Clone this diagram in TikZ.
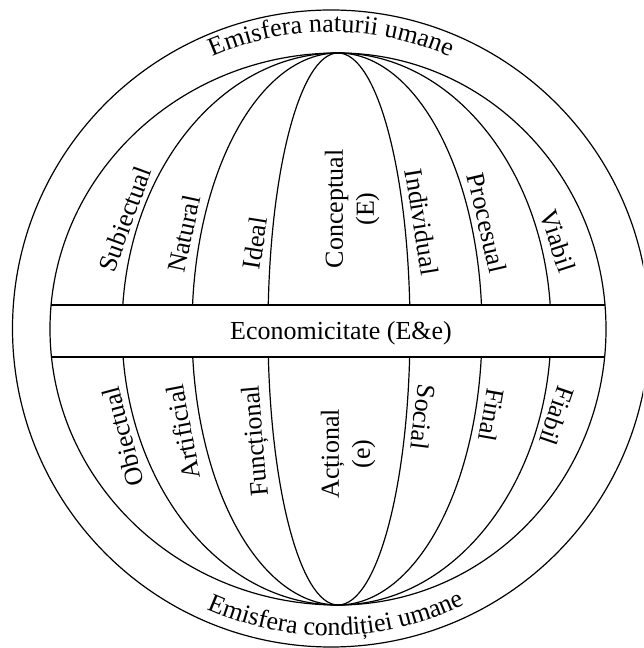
\documentclass[tikz,border=0pt]{standalone}
\usepackage{fontspec}
\setmainfont{Liberation Serif}
\usetikzlibrary{decorations.text}
\begin{document}
\begin{tikzpicture}[x=1pt,y=1pt,line width=1.2pt,
  lbl/.style={font=\fontsize{26}{31}\selectfont,inner sep=0pt,align=center}]
\useasboundingbox (0,0) rectangle (643,648);
\clip (0,0) rectangle (643,648);
% meridians
\foreach \r in {216,146,70}
  \draw (338,595) arc[start angle=90,end angle=270,x radius=\r,y radius=276];
\foreach \r in {72,144,213}
  \draw (338,595) arc[start angle=90,end angle=-90,x radius=\r,y radius=276];
% equatorial band
\begin{scope}
  \clip (338,595) arc[start angle=90,end angle=270,x radius=288,y radius=276]
        arc[start angle=-90,end angle=90,x radius=268,y radius=276] -- cycle;
  \fill[white] (0,291) rectangle (643,343);
  \draw (0,291) -- (643,291) (0,343) -- (643,343);
\end{scope}
% globe outline
\draw (338,595) arc[start angle=90,end angle=270,x radius=288,y radius=276]
      arc[start angle=-90,end angle=90,x radius=268,y radius=276] -- cycle;
% outer circle
\draw (331,319.5) circle[radius=318.5];
% curved texts
\path[decorate,decoration={text along path,text align=center,
  text={|\fontsize{26}{26}\selectfont|Emisfera naturii umane}}]
  (331,319.5) ++(150:296.5) arc[start angle=150,end angle=30,radius=296.5];
\path[decorate,decoration={text along path,text align=center,
  text={|\fontsize{26}{26}\selectfont|Emisfera condiției umane}}]
  (331,319.5) ++(200:307) arc[start angle=200,end angle=342,radius=307];
% band label
\node[lbl,anchor=base] (eco) at (341,308) {Economicitate (E\&e)};
% upper labels
\node[lbl,rotate=70] (subi) at (125,429) {Subiectual};
\node[lbl,rotate=78] (natu) at (184,414) {Natural};
\node[lbl,rotate=81] (idea) at (255,405) {Ideal};
\node[lbl,rotate=90] (conc) at (352,439) {Conceptual\\(E)};
\node[lbl,rotate=-81] (indi) at (422,426) {Individual};
\node[lbl,rotate=-77] (proc) at (487,425) {Procesual};
\node[lbl,rotate=-72] (viab) at (558,407) {Viabil};
% lower labels
\node[lbl,rotate=105] (obie) at (123,211) {Obiectual};
\node[lbl,rotate=101] (arti) at (183,216) {Artificial};
\node[lbl,rotate=95] (func) at (257,207) {Funcțional};
\node[lbl,rotate=90] (acti) at (348,194) {Acțional\\(e)};
\node[lbl,rotate=-97] (soci) at (423,231) {Social};
\node[lbl,rotate=-100] (fina) at (492,233) {Final};
\node[lbl,rotate=-109] (fiab) at (557,232) {Fiabil};
\end{tikzpicture}
\end{document}
